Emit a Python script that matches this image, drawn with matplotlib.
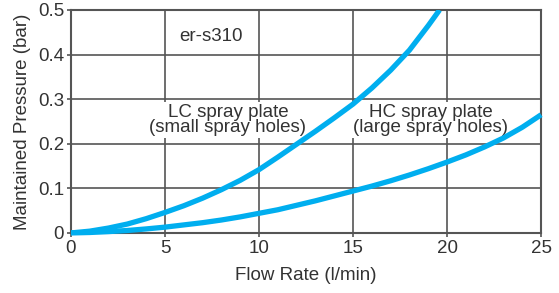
import matplotlib
matplotlib.use("Agg")
import matplotlib.pyplot as plt

plt.rcParams['font.family'] = ['Liberation Sans', 'DejaVu Sans']

# 数值 (流量 l/min, 压力 bar)
lc_flow = [0, 1, 2, 3, 4, 5, 6, 7, 8, 9, 10, 11, 12, 13, 14, 15, 16, 17, 18, 19, 19.6]
lc_pressure = [0, 0.004, 0.011, 0.02, 0.032, 0.046, 0.061, 0.078, 0.097, 0.118,
               0.142, 0.17, 0.199, 0.228, 0.258, 0.289, 0.325, 0.365, 0.41, 0.465, 0.5]

hc_flow = [0, 1, 2, 3, 4, 5, 6, 7, 8, 9, 10, 11, 12, 13, 14, 15, 16, 17, 18, 19,
           20, 21, 22, 23, 24, 25]
hc_pressure = [0, 0.001, 0.003, 0.0055, 0.009, 0.013, 0.018, 0.023, 0.029, 0.036,
               0.044, 0.052, 0.062, 0.072, 0.083, 0.094, 0.105, 0.117, 0.13, 0.144,
               0.159, 0.175, 0.193, 0.213, 0.237, 0.265]

x_ticks = [0, 5, 10, 15, 20, 25]
y_ticks = [0, 0.1, 0.2, 0.3, 0.4, 0.5]
y_ticklabels = ['0', '0.1', '0.2', '0.3', '0.4', '0.5']

line_color = '#00aeef'
grid_color = '#555555'
text_color = '#333333'
fs = 13.5

fig = plt.figure(figsize=(5.59, 2.93), dpi=100)
ax = fig.add_axes([0.127, 0.205, 0.841, 0.761])

ax.set_xlim(0, 25)
ax.set_ylim(0, 0.5)
ax.set_xticks(x_ticks)
ax.set_yticks(y_ticks)
ax.set_yticklabels(y_ticklabels)
ax.grid(True, color=grid_color, linewidth=1.2, zorder=1)
ax.set_axisbelow(True)
for s in ax.spines.values():
    s.set_color(grid_color)
    s.set_linewidth(1.5)
ax.tick_params(colors=grid_color, labelcolor=text_color, labelsize=fs,
               length=3, width=1.2, pad=2)

ax.plot(lc_flow, lc_pressure, color=line_color, linewidth=3.8,
        solid_capstyle='butt', solid_joinstyle='round', zorder=5)
ax.plot(hc_flow, hc_pressure, color=line_color, linewidth=3.8,
        solid_capstyle='butt', solid_joinstyle='round', zorder=5, clip_on=False)

box = dict(facecolor='white', edgecolor='none', pad=1.5)
ax.text(7.44, 0.4305, 'er-s310', ha='center', va='baseline', fontsize=fs,
        color=text_color, zorder=3)
ax.text(8.34, 0.253, 'LC spray plate\n(small spray holes)', ha='center',
        va='center', fontsize=fs, color=text_color, linespacing=0.82,
        bbox=box, zorder=3)
ax.text(19.14, 0.253, 'HC spray plate\n(large spray holes)', ha='center',
        va='center', fontsize=fs, color=text_color, linespacing=0.82,
        bbox=box, zorder=3)

ax.set_xlabel('Flow Rate (l/min)', fontsize=fs, color=text_color, labelpad=7)
ax.set_ylabel('Maintained Pressure (bar)', fontsize=fs, color=text_color,
              labelpad=5)

fig.savefig('out.png', dpi=100)
